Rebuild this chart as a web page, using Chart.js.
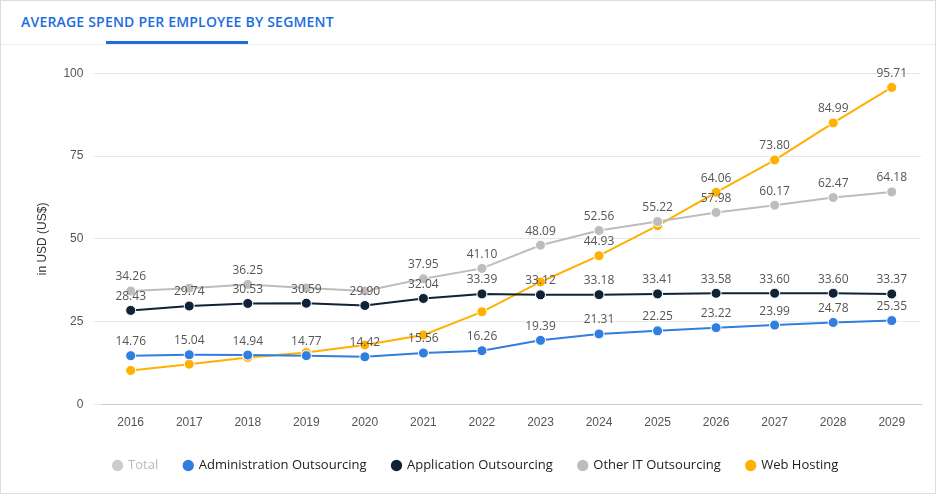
<!DOCTYPE html>
<html><head><meta charset="utf-8">
<script src="https://cdn.jsdelivr.net/npm/chart.js@4"></script>
<style>
body{margin:0;background:#fff;font-family:"Open Sans",sans-serif;width:936px;height:494px;overflow:hidden;position:relative;border:1px solid #ddd;box-sizing:border-box}
#title{position:absolute;left:20px;top:11px;color:#1a6ee0;font-weight:600;font-size:14px;letter-spacing:0.2px}
#bar{position:absolute;left:105px;top:40px;width:142px;height:3px;background:#1a6ee0}
#line{position:absolute;left:0;top:43px;width:936px;height:1px;background:#eee}
#wrap{position:absolute;left:0;top:55px;width:934px;height:436px}
</style></head><body>
<div id="title">AVERAGE SPEND PER EMPLOYEE BY SEGMENT</div>
<div id="bar"></div><div id="line"></div>
<div id="wrap"><canvas id="c"></canvas></div>
<script>
const years = ["2016","2017","2018","2019","2020","2021","2022","2023","2024","2025","2026","2027","2028","2029"];
const adminOut = [14.76,15.04,14.94,14.77,14.42,15.56,16.26,19.39,21.31,22.25,23.22,23.99,24.78,25.35];
const appOut = [28.43,29.74,30.53,30.59,29.90,32.04,33.39,33.12,33.18,33.41,33.58,33.60,33.60,33.37];
const otherIT = [34.26,35.1,36.25,35.2,34.3,37.95,41.10,48.09,52.56,55.22,57.98,60.17,62.47,64.18];
const webHosting = [10.3,12.2,14.2,15.7,18.0,21.0,28.0,37.0,44.93,54.0,64.06,73.80,84.99,95.71];
// which points carry a value label
const adminShow = [1,1,1,1,1,1,1,1,1,1,1,1,1,1];
const appShow = [1,1,1,1,1,1,1,1,1,1,1,1,1,1];
const otherShow = [1,0,1,0,0,1,1,1,1,1,1,1,1,1];
const webShow = [0,0,0,0,0,0,0,0,1,0,1,1,1,1];

const valueLabels = {
  id: 'valueLabels',
  afterDatasetsDraw(chart) {
    const ctx = chart.ctx;
    ctx.save();
    ctx.font = '12px "Open Sans"';
    ctx.fillStyle = '#555';
    ctx.textAlign = 'center';
    ctx.textBaseline = 'bottom';
    chart.data.datasets.forEach((ds, i) => {
      if (!ds.show || !chart.isDatasetVisible(i)) return;
      chart.getDatasetMeta(i).data.forEach((pt, j) => {
        if (ds.show[j]) ctx.fillText(ds.data[j].toFixed(2), pt.x, pt.y - 8);
      });
    });
    ctx.restore();
  }
};

function line(label, data, color, show) {
  return {label, data, show, borderColor: color, backgroundColor: color,
    pointBackgroundColor: color, pointBorderColor: '#fff', pointBorderWidth: 1,
    pointRadius: 5, borderWidth: 2, tension: 0};
}

new Chart(document.getElementById('c'), {
  type: 'line',
  data: {
    labels: years,
    datasets: [
      Object.assign(line('Total', [], '#cccccc', null), {hidden: true}),
      line('Administration Outsourcing', adminOut, '#2f7ee0', adminShow),
      line('Application Outsourcing', appOut, '#0f2236', appShow),
      line('Other IT Outsourcing', otherIT, '#bdbdbd', otherShow),
      line('Web Hosting', webHosting, '#ffb000', webShow)
    ]
  },
  options: {
    responsive: true, maintainAspectRatio: false, animation: false,
    layout: {padding: {left: 30, right: 14, top: 0, bottom: 10}},
    plugins: {
      tooltip: {enabled: false},
      legend: {
        position: 'bottom',
        labels: {
          usePointStyle: true, pointStyle: 'circle', boxWidth: 8, boxHeight: 8, padding: 26,
          font: {size: 13, family: '"Open Sans"'}, color: '#222',
          generateLabels(chart) {
            return chart.data.datasets.map((ds, i) => ({
              text: ds.label, fillStyle: ds.borderColor, strokeStyle: ds.borderColor,
              hidden: false, datasetIndex: i, pointStyle: 'circle', lineWidth: 0,
              fontColor: ds.hidden ? '#bbb' : '#222'
            }));
          }
        }
      }
    },
    scales: {
      x: {offset: true, grid: {display: false}, border: {color: '#ccc'},
        ticks: {color: '#555', font: {size: 12}}},
      y: {min: 0, max: 100, ticks: {stepSize: 25, color: '#555', font: {size: 12}, padding: 10},
        border: {display: false}, grid: {color: '#e8e8e8'},
        title: {display: true, text: 'in USD (US$)', color: '#333', font: {size: 12}}}
    }
  },
  plugins: [valueLabels]
});
</script>
</body></html>
